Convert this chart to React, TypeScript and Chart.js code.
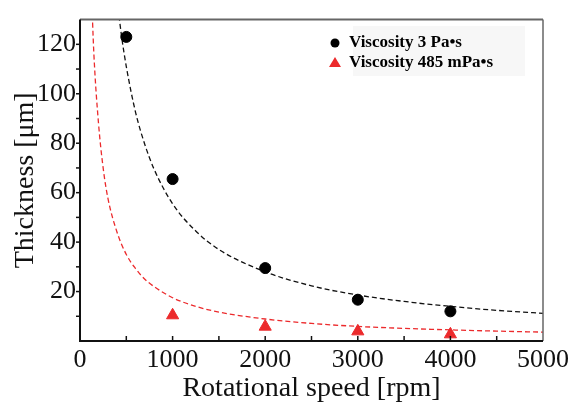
import React, { useEffect, useRef } from "react";
import { Chart, registerables } from "chart.js";

Chart.register(...registerables);

// Measured points
const rpmHigh = [500, 1000, 2000, 3000, 4000];
const thickHigh = [123, 65.5, 29.5, 16.7, 12];
const rpmLow = [1000, 2000, 3000, 4000];
const thickLow = [10.4, 5.8, 3.9, 2.7];

// Dashed fit curves
const fitHighX = [400, 450, 500, 600, 700, 800, 1000, 1250, 1500, 2000, 2500, 3000, 3500, 4000, 4500, 5000];
const fitHighY = [138, 123, 111, 92.5, 79.5, 69.5, 55.5, 44.5, 37, 28, 22.3, 18.6, 16, 14, 12.4, 11.2];
const fitLowX = [120, 150, 200, 250, 300, 400, 500, 600, 700, 800, 1000, 1250, 1500, 2000, 2500, 3000, 3500, 4000, 4500, 5000];
const fitLowY = [145, 116, 88, 70, 58, 44, 35, 29.3, 25, 22, 17.5, 14, 11.7, 8.9, 7.1, 5.9, 5.1, 4.5, 4, 3.6];

const xMajor = [0, 1000, 2000, 3000, 4000, 5000];
const yLabels = [20, 40, 60, 80, 100, 120];

const legendLabels = ["Viscosity 3 Pa\u2022s", "Viscosity 485 mPa\u2022s"];
const RED = "#ec2a2c";
const SERIF = "'Liberation Serif', 'Times New Roman', serif";

const decorPlugin = {
  id: "decor",
  afterDraw(chart: any) {
    const { ctx, chartArea, scales } = chart;
    const { left, right, top, bottom } = chartArea;
    const xs = scales.x;
    const ys = scales.y;
    ctx.save();
    // top & right border (grey)
    ctx.strokeStyle = "#666";
    ctx.lineWidth = 2;
    ctx.beginPath();
    ctx.moveTo(left, top);
    ctx.lineTo(right, top);
    ctx.stroke();
    ctx.lineWidth = 1.5;
    ctx.beginPath();
    ctx.moveTo(right, top);
    ctx.lineTo(right, bottom);
    ctx.stroke();
    // left & bottom axes
    ctx.strokeStyle = "#111";
    ctx.lineWidth = 2;
    ctx.beginPath();
    ctx.moveTo(left, top);
    ctx.lineTo(left, bottom);
    ctx.lineTo(right, bottom);
    ctx.stroke();
    // y ticks (outward)
    ctx.lineWidth = 1.5;
    for (let v = 10; v <= 120; v += 10) {
      const y = ys.getPixelForValue(v);
      ctx.beginPath();
      ctx.moveTo(left - 4, y);
      ctx.lineTo(left, y);
      ctx.stroke();
    }
    // x ticks (inward)
    for (let v = 500; v < 5000; v += 500) {
      const x = xs.getPixelForValue(v);
      ctx.beginPath();
      ctx.moveTo(x, bottom);
      ctx.lineTo(x, bottom - 5);
      ctx.stroke();
    }
    // legend
    const bx = 353, by = 26, bw = 172, bh = 50;
    ctx.fillStyle = "rgba(245,245,245,0.8)";
    ctx.fillRect(bx, by, bw, bh);
    ctx.font = `bold 17px ${SERIF}`;
    ctx.textBaseline = "middle";
    ctx.textAlign = "left";
    // row 1
    ctx.fillStyle = "#000";
    ctx.beginPath();
    ctx.arc(335, 43, 4.5, 0, Math.PI * 2);
    ctx.fill();
    ctx.fillText(legendLabels[0], 349, 43);
    // row 2
    ctx.fillStyle = RED;
    ctx.beginPath();
    ctx.moveTo(335, 57);
    ctx.lineTo(341, 67);
    ctx.lineTo(329, 67);
    ctx.closePath();
    ctx.fill();
    ctx.fillStyle = "#000";
    ctx.fillText(legendLabels[1], 349, 63);
    ctx.restore();
  },
};

export default function App() {
  const ref = useRef<HTMLCanvasElement | null>(null);
  useEffect(() => {
    if (!ref.current) return;
    const chart = new Chart(ref.current, {
      type: "scatter",
      data: {
        datasets: [
          {
            label: "fit3",
            data: fitHighX.map((x, i) => ({ x, y: fitHighY[i] })),
            showLine: true,
            borderColor: "#111",
            borderWidth: 1.3,
            borderDash: [5, 3],
            pointRadius: 0,
            cubicInterpolationMode: "monotone",
            order: 3,
          },
          {
            label: "fit485",
            data: fitLowX.map((x, i) => ({ x, y: fitLowY[i] })),
            showLine: true,
            borderColor: RED,
            borderWidth: 1.3,
            borderDash: [5, 3],
            pointRadius: 0,
            cubicInterpolationMode: "monotone",
            order: 4,
          },
          {
            label: legendLabels[0],
            data: rpmHigh.map((x, i) => ({ x, y: thickHigh[i] })),
            backgroundColor: "#000",
            borderColor: "#000",
            pointRadius: 5.5,
            pointStyle: "circle",
            order: 1,
          },
          {
            label: legendLabels[1],
            data: rpmLow.map((x, i) => ({ x, y: thickLow[i] })),
            backgroundColor: RED,
            borderColor: RED,
            pointRadius: 7,
            pointStyle: "triangle",
            order: 2,
          },
        ],
      },
      options: {
        animation: false,
        responsive: false,
        maintainAspectRatio: false,
        layout: { padding: { top: 11, right: 30, left: 0, bottom: 0 } },
        plugins: { legend: { display: false }, tooltip: { enabled: false } },
        scales: {
          x: {
            type: "linear",
            min: 0,
            max: 5000,
            afterBuildTicks: (s: any) => {
              s.ticks = xMajor.map((v) => ({ value: v }));
            },
            afterFit: (s: any) => {
              s.height = 64;
            },
            grid: { display: false, drawTicks: false },
            border: { display: false },
            ticks: {
              color: "#111",
              font: { family: SERIF, size: 26 },
              padding: 4,
              maxRotation: 0,
              autoSkip: false,
              callback: (v: any) => String(v),
            },
            title: {
              display: true,
              text: "Rotational speed [rpm]",
              color: "#111",
              font: { family: SERIF, size: 28 },
              padding: { top: 0, bottom: 0 },
            },
          },
          y: {
            type: "linear",
            min: 0,
            max: 130,
            afterBuildTicks: (s: any) => {
              s.ticks = yLabels.map((v) => ({ value: v }));
            },
            afterFit: (s: any) => {
              s.width = 80;
            },
            grid: { display: false, drawTicks: false },
            border: { display: false },
            ticks: {
              color: "#111",
              font: { family: SERIF, size: 26 },
              padding: 4,
              autoSkip: false,
              callback: (v: any) => String(v),
            },
            title: {
              display: true,
              text: "Thickness [\u03bcm]",
              color: "#111",
              font: { family: SERIF, size: 28 },
              padding: { top: 9, bottom: 0 },
            },
          },
        },
      },
      plugins: [decorPlugin],
    } as any);
    return () => chart.destroy();
  }, []);
  return (
    <div style={{ position: "absolute", left: 0, top: 0, width: 573, height: 405, background: "#fff" }}>
      <canvas ref={ref} width={573} height={405} style={{ display: "block" }} />
    </div>
  );
}
